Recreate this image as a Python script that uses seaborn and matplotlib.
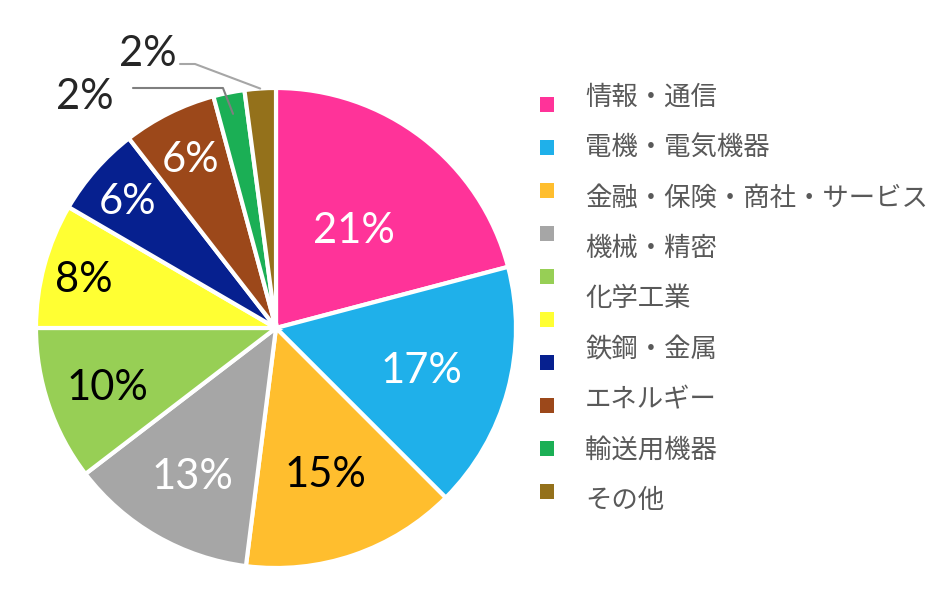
import numpy as np
import matplotlib.pyplot as plt
import seaborn as sns
from matplotlib.patches import Patch

# 業種別の構成比 (%) - slice sizes, labels as printed
shares = [20.9, 16.6, 14.5, 12.6, 10.4, 8.4, 6.1, 6.3, 2.1, 2.1]
pct_labels = ['21%', '17%', '15%', '13%', '10%', '8%', '6%', '6%', '2%', '2%']
sectors = ['情報・通信', '電機・電気機器', '金融・保険・商社・サービス', '機械・精密',
           '化学工業', '鉄鋼・金属', 'エネルギー', '輸送用機器', 'その他']
colors = ['#FF3399', '#1FB0EA', '#FFBE2E', '#A6A6A6', '#97CF55',
          '#FFFF33', '#06208F', '#9C481A', '#1BAF55', '#94711B']
label_colors = ['white', 'white', 'black', 'white', 'black', 'black',
                'white', 'white', '#262626', '#262626']
label_r = [0.53, 0.63, 0.63, 0.70, 0.74, 0.83, 0.82, 0.80]

sns.set_theme(style='white')
plt.rcParams['font.family'] = ['Lato', 'Noto Sans CJK JP', 'DejaVu Sans']

W, H = 940, 606
fig = plt.figure(figsize=(W / 100, H / 100), dpi=100)
cx, cy, R = 276, 328, 240
ax = fig.add_axes([(cx - R) / W, (H - cy - R) / H, 2 * R / W, 2 * R / H])

palette = sns.color_palette(colors)
wedges, _ = ax.pie(shares, colors=palette, startangle=90, counterclock=False,
                   wedgeprops=dict(edgecolor='white', linewidth=3))
ax.set_xlim(-1, 1)
ax.set_ylim(-1, 1)
ax.set_aspect('equal')
ax.axis('off')

# inside labels
for i, w in enumerate(wedges[:len(label_r)]):
    ang = np.deg2rad((w.theta1 + w.theta2) / 2)
    r = label_r[i]
    ax.text(r * np.cos(ang), r * np.sin(ang), pct_labels[i], ha='center',
            va='center_baseline', fontsize=30, color=label_colors[i])

# outside labels with leader lines
outside = [(8, (-0.796, 0.979), [(-0.596, 1.0), (-0.221, 1.0)], 0.91, '#7F7F7F'),
           (9, (-0.533, 1.158), [(-0.40, 1.10), (-0.3375, 1.10)], 1.0, '#A6A6A6')]
for i, txt_xy, path, r, lc in outside:
    w = wedges[i]
    ang = np.deg2rad((w.theta1 + w.theta2) / 2)
    px = [p[0] for p in path] + [r * np.cos(ang)]
    py = [p[1] for p in path] + [r * np.sin(ang)]
    ax.plot(px, py, color=lc, lw=1.5, clip_on=False)
    ax.text(txt_xy[0], txt_xy[1], pct_labels[i], ha='center',
            va='center_baseline', fontsize=30, color=label_colors[i])

# legend: markers and texts are laid out separately (as in the original)
handles = [Patch(facecolor=c, edgecolor='none') for c in palette]
leg1 = fig.legend(handles, [' '] * len(handles), loc='center left',
                  bbox_to_anchor=(540 / W, 1 - 299.5 / H), frameon=False,
                  prop={'size': 18}, handlelength=0.56, handleheight=0.56,
                  handletextpad=0, labelspacing=0.8, borderpad=0, borderaxespad=0)
blank = [Patch(facecolor='none', edgecolor='none') for _ in sectors]
leg2 = fig.legend(blank, sectors, loc='center left',
                  bbox_to_anchor=(585 / W, 1 - 299 / H), frameon=False,
                  prop={'size': 19, 'family': ['Noto Sans CJK JP', 'DejaVu Sans']},
                  handlelength=0, handletextpad=0, labelspacing=0.89,
                  borderpad=0, borderaxespad=0, labelcolor='#595959')

fig.savefig('out.png', dpi=100)
